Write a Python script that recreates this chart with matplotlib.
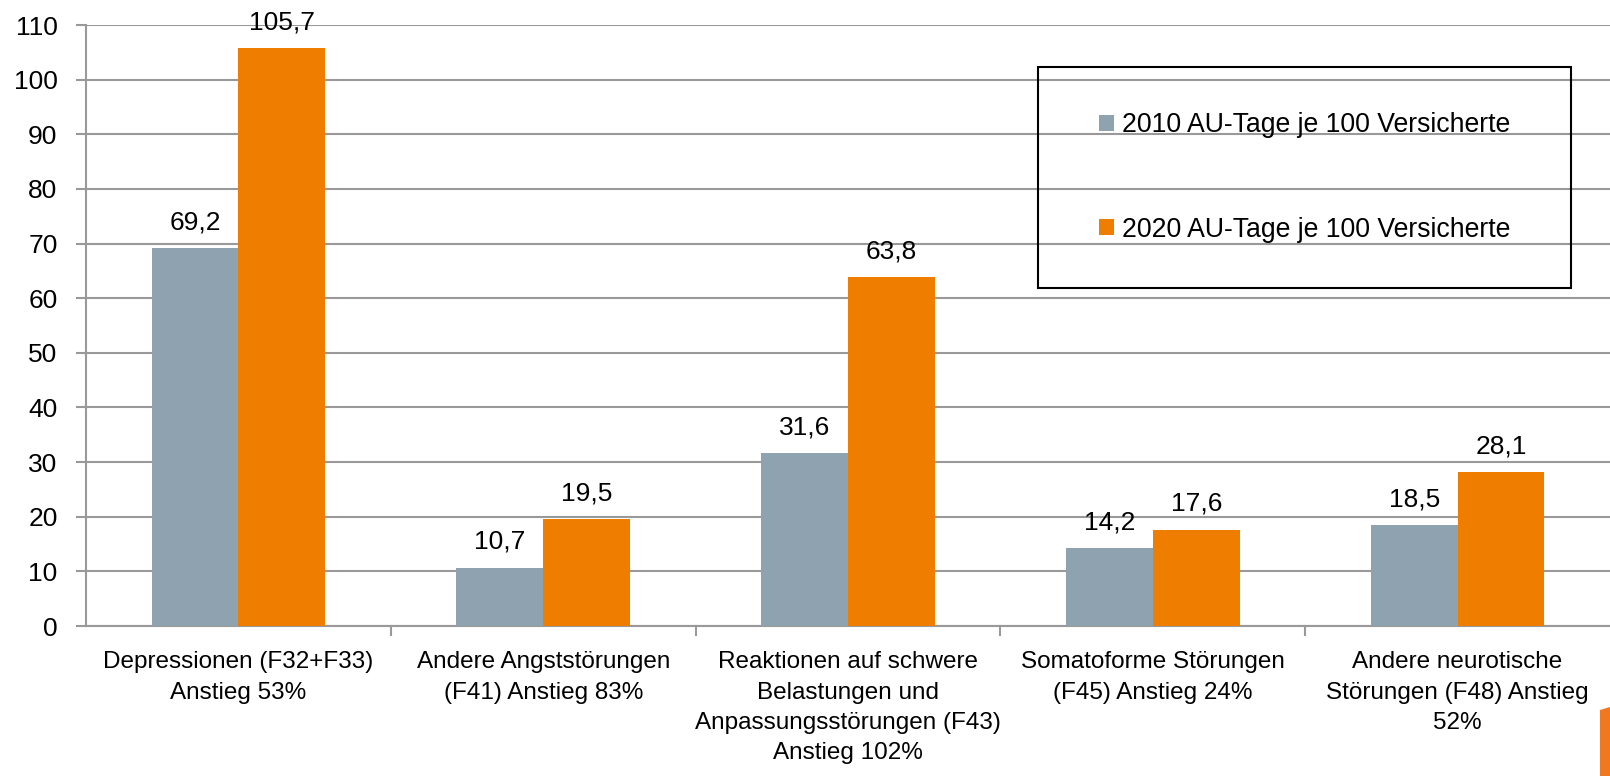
import matplotlib
matplotlib.use("Agg")
import matplotlib.pyplot as plt
import numpy as np
from matplotlib.patches import Polygon, Rectangle

plt.rcParams["font.family"] = ["Liberation Sans", "DejaVu Sans"]

# data
categories = [
    "Depressionen (F32+F33)\nAnstieg 53%",
    "Andere Angststörungen\n(F41) Anstieg 83%",
    "Reaktionen auf schwere\nBelastungen und\nAnpassungsstörungen (F43)\nAnstieg 102%",
    "Somatoforme Störungen\n(F45) Anstieg 24%",
    "Andere neurotische\nStörungen (F48) Anstieg\n52%",
]
values_2010 = [69.2, 10.7, 31.6, 14.2, 18.5]
values_2020 = [105.7, 19.5, 63.8, 17.6, 28.1]
series_labels = ["2010 AU-Tage je 100 Versicherte", "2020 AU-Tage je 100 Versicherte"]
yticks = list(range(0, 111, 10))

GRAY = "#8EA3AF"
ORANGE = "#EF7D00"
GRID = "#999999"
FS = 19        # ticks, values
FS_CAT = 17.5  # category labels (the original face is narrow)
FS_LEG = 19.2

W, H = 1610, 776
fig = plt.figure(figsize=(W / 100, H / 100), dpi=100)
ax = fig.add_axes([86 / W, 1 - 626 / H, 1 - 86 / W, (626 - 25) / H])

x = np.arange(len(categories))
w = 0.285
b1 = ax.bar(x - w / 2, values_2010, w, color=GRAY, label=series_labels[0], zorder=3)
b2 = ax.bar(x + w / 2, values_2020, w, color=ORANGE, label=series_labels[1], zorder=3)

for bars, vals in ((b1, values_2010), (b2, values_2020)):
    for r, v in zip(bars, vals):
        ax.annotate(f"{v:.1f}".replace(".", ","),
                    (r.get_x() + r.get_width() / 2, v),
                    xytext=(0, 10), textcoords="offset points",
                    ha="center", va="bottom", fontsize=FS, zorder=4)

ax.set_xlim(-0.5, len(categories) - 0.5)
ax.set_ylim(0, 110)
ax.set_yticks(yticks)
ax.tick_params(axis="y", labelsize=FS, length=7.5, color=GRID, width=1.5, pad=13)
ax.yaxis.grid(True, color=GRID, linewidth=1.5, zorder=0)
ax.set_axisbelow(True)

# category labels centred, ticks at boundaries
ax.set_xticks(x)
ax.set_xticklabels(categories, fontsize=FS_CAT, linespacing=1.5)
ax.tick_params(axis="x", length=0, pad=18)
for b in np.arange(0.5, len(categories) - 0.5, 1):
    ax.plot([b, b], [0, -1.6], color=GRID, lw=1.5, clip_on=False, zorder=2)

for s in ("top", "right"):
    ax.spines[s].set_visible(False)
for s in ("left", "bottom"):
    ax.spines[s].set_color(GRID)
    ax.spines[s].set_linewidth(1.5)

# legend: entries without frame, box drawn separately (transparent, gridlines show through)
box_l, box_r, box_t, box_b = 1038, 1571, 67, 288
ax.legend(loc="center", bbox_to_anchor=((1099 + 1510) / 2 / W, 1 - (box_t + box_b) / 2 / H),
          bbox_transform=fig.transFigure, fontsize=FS_LEG, frameon=False,
          handlelength=0.55, handleheight=0.55, handletextpad=0.3,
          labelspacing=2.95, borderpad=0, borderaxespad=0)
fig.add_artist(Rectangle((box_l / W, 1 - box_b / H), (box_r - box_l) / W,
                         (box_b - box_t) / H, transform=fig.transFigure,
                         fill=False, edgecolor="black", linewidth=1.5))

# orange corner decoration
fig.patches.append(Polygon([(1600 / W, 0), (1600 / W, 1 - 710 / H),
                            (1.0, 1 - 707 / H), (1.0, 0)],
                           closed=True, transform=fig.transFigure,
                           facecolor="#F07820", edgecolor="none"))

fig.savefig("out.png", dpi=100)
